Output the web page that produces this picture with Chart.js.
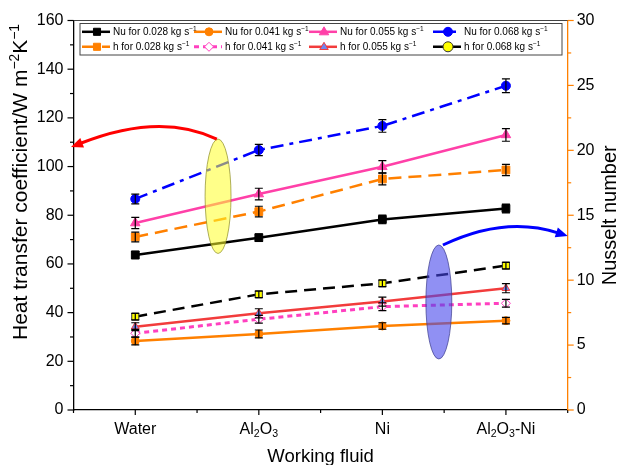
<!DOCTYPE html>
<html>
<head>
<meta charset="utf-8">
<script src="https://cdn.jsdelivr.net/npm/chart.js@4.4.0/dist/chart.umd.min.js"></script>
<style>
  html, body { margin: 0; padding: 0; background: #fff; }
</style>
</head>
<body>
<canvas id="chart" width="620" height="465"></canvas>
<script>
const FONT = '"Liberation Sans", Arial, Helvetica, sans-serif';

const fluids = ['Water', 'Al2O3', 'Ni', 'Al2O3-Ni'];

// upper group, left axis (W m-2 K-1)
const nu028 = [63.7, 70.8, 78.3, 82.8];
const h028 = [71.1, 81.5, 94.9, 98.6];
const nu055 = [76.8, 88.7, 99.9, 113.0];
const nu068 = [86.7, 106.8, 116.7, 133.2];
const errNu028 = [1.5, 1.5, 1.8, 1.8];
const errH028 = [2.0, 2.2, 2.4, 2.3];
const errNu055 = [2.3, 2.4, 2.5, 2.6];
const errNu068 = [2.0, 2.3, 2.6, 2.8];

// lower group, right axis (Nusselt number)
const nu041 = [5.32, 5.86, 6.47, 6.88];
const h041 = [5.91, 6.99, 7.96, 8.22];
const h055 = [6.42, 7.45, 8.35, 9.38];
const h068 = [7.19, 8.91, 9.76, 11.12];
const errNu041 = [0.3, 0.3, 0.25, 0.25];
const errH041 = [0.3, 0.3, 0.3, 0.3];
const errH055 = [0.3, 0.35, 0.35, 0.35];
const errH068 = [0.25, 0.25, 0.25, 0.25];

const leftTicks = { min: 0, max: 160, step: 20 };
const rightTicks = { min: 0, max: 30, step: 5 };

function pts(arr) {
    return arr.map((v, i) => ({ x: i + 1, y: v }));
}

function series(label, values, errs, axis, style) {
    return Object.assign({
        label: label,
        data: pts(values),
        errs: errs,
        yAxisID: axis,
        borderWidth: 2.5,
        fill: false,
        tension: 0,
        pointBorderWidth: 1
    }, style);
}

const datasets = [
    series('Nu for 0.028 kg s', nu028, errNu028, 'y', {
        borderColor: '#000', pointStyle: 'rect', pointRadius: 5.5,
        pointBackgroundColor: '#000', pointBorderColor: '#000'
    }),
    series('Nu for 0.041 kg s', nu041, errNu041, 'y1', {
        borderColor: '#ff8000', pointStyle: 'circle', pointRadius: 4,
        pointBackgroundColor: '#ff8000', pointBorderColor: '#ff8000'
    }),
    series('Nu for 0.055 kg s', nu055, errNu055, 'y', {
        borderColor: '#ff40a8', pointStyle: 'triangle', pointRadius: 5.5,
        pointBackgroundColor: '#ff40a8', pointBorderColor: '#ff40a8'
    }),
    series('Nu for 0.068 kg s', nu068, errNu068, 'y', {
        borderColor: '#0000ff', borderDash: [13, 6, 4, 6], pointStyle: 'circle', pointRadius: 4.5,
        pointBackgroundColor: '#0000ff', pointBorderColor: '#0000ff'
    }),
    series('h for 0.028 kg s', h028, errH028, 'y', {
        borderColor: '#ff8000', borderDash: [13, 7], pointStyle: 'rect', pointRadius: 5.5,
        pointBackgroundColor: '#ff8000', pointBorderColor: '#ff8000'
    }),
    series('h for 0.041 kg s', h041, errH041, 'y1', {
        borderColor: '#ff40c0', borderDash: [5, 4], borderWidth: 3, pointStyle: 'rectRot', pointRadius: 4.5,
        pointBackgroundColor: '#fff', pointBorderColor: '#ff40c0'
    }),
    series('h for 0.055 kg s', h055, errH055, 'y1', {
        borderColor: '#f23c3c', pointStyle: 'triangle', pointRadius: 4.5,
        pointBackgroundColor: '#7186ee', pointBorderColor: '#f23c3c'
    }),
    series('h for 0.068 kg s', h068, errH068, 'y1', {
        borderColor: '#000', borderDash: [12, 7], pointStyle: 'rect', pointRadius: 5,
        pointBackgroundColor: '#ffff00', pointBorderColor: '#333', legendPoint: 'circle'
    })
];

// decorations, in data units: [x, y] on the given y axis
const ellipses = [
    { axis: 'y', cx: 1.67, cy: 87.8, rx: 0.105, ry: 23.5, fill: 'rgba(255,255,40,0.55)', stroke: 'rgba(140,140,40,0.7)' },
    { axis: 'y1', cx: 3.457, cy: 8.32, rx: 0.105, ry: 4.39, fill: 'rgba(70,70,235,0.6)', stroke: 'rgba(60,60,140,0.7)' }
];
const arrows = [
    { axis: 'y', color: '#ff0000', from: [1.66, 111.3], ctrl: [1.2, 122.5], to: [0.48, 108.0] },
    { axis: 'y1', color: '#0000ff', from: [3.49, 12.71], ctrl: [3.99, 14.98], to: [4.5, 13.4] }
];

function chemParts(s) {
    const out = [];
    s.split(/(\d)/).forEach(p => {
        if (!p) return;
        out.push([p, /\d/.test(p) ? -1 : 0]);
    });
    return out;
}

function setFont(ctx, size) {
    ctx.font = size + 'px ' + FONT;
}

function richWidth(ctx, parts, size) {
    let w = 0;
    parts.forEach(([t, m]) => {
        setFont(ctx, m ? size * 0.66 : size);
        w += ctx.measureText(t).width;
    });
    return w;
}

function drawRich(ctx, parts, x, y, size) {
    ctx.textAlign = 'left';
    ctx.textBaseline = 'alphabetic';
    parts.forEach(([t, m]) => {
        const s = m ? size * 0.66 : size;
        setFont(ctx, s);
        let dy = 0;
        if (m === 1) dy = -size * 0.4;
        if (m === -1) dy = size * 0.22;
        ctx.fillText(t, x, y + dy);
        x += ctx.measureText(t).width;
    });
}

function marker(ctx, style, r, x, y, fill, stroke) {
    ctx.save();
    ctx.fillStyle = fill;
    ctx.strokeStyle = stroke;
    ctx.lineWidth = 1;
    ctx.setLineDash([]);
    ctx.beginPath();
    if (style === 'rect') {
        const s = r * Math.SQRT1_2;
        ctx.rect(x - s, y - s, 2 * s, 2 * s);
    } else if (style === 'rectRot') {
        ctx.moveTo(x, y - r); ctx.lineTo(x + r, y); ctx.lineTo(x, y + r); ctx.lineTo(x - r, y); ctx.closePath();
    } else if (style === 'triangle') {
        ctx.moveTo(x, y - r); ctx.lineTo(x + r * 0.95, y + r * 0.6); ctx.lineTo(x - r * 0.95, y + r * 0.6); ctx.closePath();
    } else {
        ctx.arc(x, y, r, 0, Math.PI * 2);
    }
    ctx.fill();
    ctx.stroke();
    ctx.restore();
}

const decorPlugin = {
    id: 'decor',
    afterDatasetsDraw(chart) {
        const ctx = chart.ctx;
        const xs = chart.scales.x;
        // error bars
        chart.data.datasets.forEach(ds => {
            const ys = chart.scales[ds.yAxisID];
            ctx.save();
            ctx.strokeStyle = '#000';
            ctx.lineWidth = 1.2;
            ds.data.forEach((p, i) => {
                const e = ds.errs[i];
                const px = xs.getPixelForValue(p.x);
                const y0 = ys.getPixelForValue(p.y - e);
                const y1 = ys.getPixelForValue(p.y + e);
                ctx.beginPath();
                ctx.moveTo(px, y0); ctx.lineTo(px, y1);
                ctx.moveTo(px - 4, y0); ctx.lineTo(px + 4, y0);
                ctx.moveTo(px - 4, y1); ctx.lineTo(px + 4, y1);
                ctx.stroke();
            });
            ctx.restore();
        });
        // ellipses
        ellipses.forEach(el => {
            const ys = chart.scales[el.axis];
            const cx = xs.getPixelForValue(el.cx);
            const cy = ys.getPixelForValue(el.cy);
            const rx = Math.abs(xs.getPixelForValue(el.cx + el.rx) - cx);
            const ry = Math.abs(ys.getPixelForValue(el.cy + el.ry) - cy);
            ctx.save();
            ctx.beginPath();
            ctx.ellipse(cx, cy, rx, ry, 0, 0, Math.PI * 2);
            ctx.fillStyle = el.fill;
            ctx.fill();
            ctx.strokeStyle = el.stroke;
            ctx.lineWidth = 1;
            ctx.stroke();
            ctx.restore();
        });
        // curved arrows
        arrows.forEach(a => {
            const ys = chart.scales[a.axis];
            const p = v => [xs.getPixelForValue(v[0]), ys.getPixelForValue(v[1])];
            const f = p(a.from), c = p(a.ctrl), t = p(a.to);
            const ang = Math.atan2(t[1] - c[1], t[0] - c[0]);
            const head = 13;
            const bx = t[0] - Math.cos(ang) * head * 0.8;
            const by = t[1] - Math.sin(ang) * head * 0.8;
            ctx.save();
            ctx.strokeStyle = a.color;
            ctx.fillStyle = a.color;
            ctx.lineWidth = 3;
            ctx.beginPath();
            ctx.moveTo(f[0], f[1]);
            ctx.quadraticCurveTo(c[0], c[1], bx, by);
            ctx.stroke();
            ctx.beginPath();
            ctx.moveTo(t[0], t[1]);
            ctx.lineTo(t[0] - Math.cos(ang - 0.4) * head, t[1] - Math.sin(ang - 0.4) * head);
            ctx.lineTo(t[0] - Math.cos(ang + 0.4) * head, t[1] - Math.sin(ang + 0.4) * head);
            ctx.closePath();
            ctx.fill();
            ctx.restore();
        });
    },
    afterDraw(chart) {
        const ctx = chart.ctx;
        const area = chart.chartArea;
        const xs = chart.scales.x, yl = chart.scales.y, yr = chart.scales.y1;
        ctx.save();
        // top frame line
        ctx.strokeStyle = '#444';
        ctx.lineWidth = 1.2;
        ctx.beginPath();
        ctx.moveTo(area.left, area.top); ctx.lineTo(area.right, area.top);
        ctx.stroke();
        // tick marks
        ctx.strokeStyle = '#000';
        for (let v = leftTicks.min; v <= leftTicks.max; v += leftTicks.step / 2) {
            const py = yl.getPixelForValue(v);
            const len = v % leftTicks.step === 0 ? 6 : 3.5;
            ctx.beginPath(); ctx.moveTo(area.left - len, py); ctx.lineTo(area.left, py); ctx.stroke();
        }
        for (let v = 0.5; v <= 4.5; v += 0.5) {
            const px = xs.getPixelForValue(v);
            const len = Number.isInteger(v) ? 5 : 3;
            ctx.beginPath(); ctx.moveTo(px, area.bottom); ctx.lineTo(px, area.bottom + len); ctx.stroke();
        }
        ctx.strokeStyle = '#ff8000';
        for (let v = rightTicks.min; v <= rightTicks.max; v += rightTicks.step / 2) {
            const py = yr.getPixelForValue(v);
            const len = v % rightTicks.step === 0 ? 6 : 3.5;
            ctx.beginPath(); ctx.moveTo(area.right, py); ctx.lineTo(area.right + len, py); ctx.stroke();
        }
        // category labels
        ctx.fillStyle = '#000';
        fluids.forEach((name, i) => {
            const parts = chemParts(name);
            const w = richWidth(ctx, parts, 16);
            drawRich(ctx, parts, xs.getPixelForValue(i + 1) - w / 2, area.bottom + 23.5, 16);
        });
        // axis titles
        const xt = [['Working fluid', 0]];
        drawRich(ctx, xt, (area.left + area.right) / 2 - richWidth(ctx, xt, 18.5) / 2, 462, 18.5);

        const lt = [['Heat transfer coefficient/W m', 0], ['\u22122', 1], ['K', 0], ['\u22121', 1]];
        ctx.save();
        ctx.translate(27, 182);
        ctx.rotate(-Math.PI / 2);
        drawRich(ctx, lt, -richWidth(ctx, lt, 21) / 2, 0, 21);
        ctx.restore();

        const rt = [['Nusselt number', 0]];
        ctx.save();
        ctx.translate(616, (area.top + area.bottom) / 2);
        ctx.rotate(-Math.PI / 2);
        drawRich(ctx, rt, -richWidth(ctx, rt, 20) / 2, 0, 20);
        ctx.restore();

        // legend box
        ctx.fillStyle = '#fff';
        ctx.fillRect(80, 23.5, 482, 31.5);
        ctx.strokeStyle = '#444';
        ctx.lineWidth = 1;
        ctx.strokeRect(80, 23.5, 482, 31.5);
        const colX = [82, 194, 309, 433];
        const rowY = [31.8, 46.8];
        chart.data.datasets.forEach((ds, i) => {
            const x0 = colX[i % 4];
            const y0 = rowY[Math.floor(i / 4)];
            ctx.save();
            ctx.strokeStyle = ds.borderColor;
            ctx.lineWidth = ds.borderWidth;
            ctx.setLineDash(ds.borderDash || []);
            ctx.beginPath(); ctx.moveTo(x0, y0); ctx.lineTo(x0 + 28, y0); ctx.stroke();
            ctx.restore();
            marker(ctx, ds.legendPoint || ds.pointStyle, Math.min(ds.pointRadius, 5), x0 + 15, y0,
                ds.pointBackgroundColor, ds.pointBorderColor);
            ctx.fillStyle = '#000';
            drawRich(ctx, [[ds.label, 0], ['\u22121', 1]], x0 + 31, y0 + 3.5, 10);
        });
        ctx.restore();
    }
};

const tickFont = { family: FONT, size: 16 };

new Chart(document.getElementById('chart'), {
    type: 'line',
    data: { datasets: datasets },
    options: {
        responsive: false,
        animation: false,
        layout: { padding: { top: 20.5, left: 0, right: 0, bottom: 0 } },
        plugins: { legend: { display: false }, tooltip: { enabled: false } },
        scales: {
            x: {
                type: 'linear', min: 0.5, max: 4.5,
                grid: { display: false, drawTicks: false },
                border: { color: '#000', width: 1.3 },
                ticks: { display: false },
                afterFit(s) { s.height = 55; }
            },
            y: {
                position: 'left', min: leftTicks.min, max: leftTicks.max,
                grid: { display: false, drawTicks: false },
                border: { color: '#000', width: 1.3 },
                ticks: { stepSize: leftTicks.step, color: '#000', font: tickFont, padding: 10 },
                afterFit(s) { s.width = 73.5; }
            },
            y1: {
                position: 'right', min: rightTicks.min, max: rightTicks.max,
                grid: { display: false, drawTicks: false },
                border: { color: '#ff8000', width: 1.3 },
                ticks: { stepSize: rightTicks.step, color: '#000', font: tickFont, padding: 9 },
                afterFit(s) { s.width = 52.3; }
            }
        }
    },
    plugins: [decorPlugin]
});
</script>
</body>
</html>
